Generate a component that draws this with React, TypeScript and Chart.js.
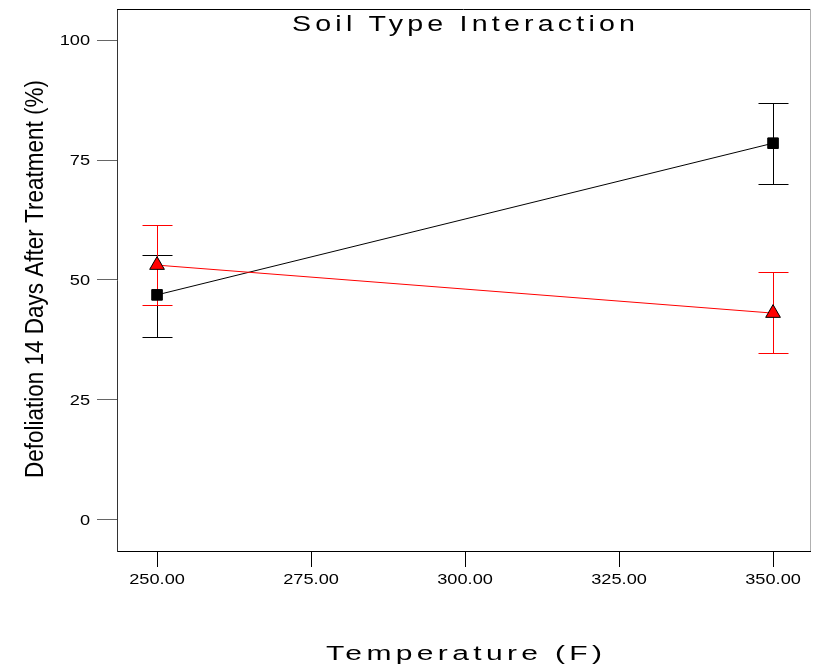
import React, { useEffect, useRef } from "react";
import { Chart, registerables } from "chart.js";
Chart.register(...registerables);

const temperatures = [250, 350];
const blackMean = [46.9, 78.5];
const blackUpper = [55.2, 86.9];
const blackLower = [38.2, 70.0];
const redMean = [53.1, 43.1];
const redUpper = [61.5, 51.7];
const redLower = [44.8, 34.8];
const xTicks = [250, 275, 300, 325, 350];
const yTicks = [0, 25, 50, 75, 100];
const chartTitle = "Soil Type Interaction";
const xTitle = "Temperature (F)";
const yTitle = "Defoliation 14 Days After Treatment (%)";

const FONT = '"Liberation Sans", Arial, sans-serif';

function stretchText(
  ctx: CanvasRenderingContext2D,
  text: string,
  x: number,
  y: number,
  size: number,
  sx: number,
  align: "left" | "center" | "right",
  targetWidth?: number
) {
  ctx.save();
  ctx.font = `${size}px ${FONT}`;
  (ctx as any).letterSpacing = "0px";
  const w = ctx.measureText(text).width;
  let spacing = 0;
  if (targetWidth !== undefined && text.length > 1) {
    spacing = (targetWidth / sx - w) / (text.length - 1);
  }
  const total = (w + spacing * (text.length - 1)) * sx;
  let left = x;
  if (align === "center") left = x - total / 2;
  if (align === "right") left = x - total;
  (ctx as any).letterSpacing = `${spacing}px`;
  ctx.translate(left, y);
  ctx.scale(sx, 1);
  ctx.fillStyle = "#000";
  ctx.textAlign = "left";
  ctx.textBaseline = "alphabetic";
  ctx.fillText(text, 0, 0);
  ctx.restore();
}

const decorPlugin = {
  id: "decor",
  beforeDatasetsDraw(chart: any) {
    const ctx = chart.ctx as CanvasRenderingContext2D;
    const xs = chart.scales.x;
    const ys = chart.scales.y;
    const series = [
      { lo: blackLower, hi: blackUpper, color: "#000000" },
      { lo: redLower, hi: redUpper, color: "#ff0000" },
    ];
    ctx.save();
    ctx.lineWidth = 1;
    for (const s of series) {
      ctx.strokeStyle = s.color;
      temperatures.forEach((t, i) => {
        const x = Math.round(xs.getPixelForValue(t)) + 0.5;
        const y1 = Math.round(ys.getPixelForValue(s.hi[i])) + 0.5;
        const y2 = Math.round(ys.getPixelForValue(s.lo[i])) + 0.5;
        ctx.beginPath();
        ctx.moveTo(x, y1);
        ctx.lineTo(x, y2);
        ctx.moveTo(x - 15, y1);
        ctx.lineTo(x + 15, y1);
        ctx.moveTo(x - 15, y2);
        ctx.lineTo(x + 15, y2);
        ctx.stroke();
      });
    }
    ctx.restore();
  },
  afterDraw(chart: any) {
    const ctx = chart.ctx as CanvasRenderingContext2D;
    const a = chart.chartArea;
    const xs = chart.scales.x;
    const ys = chart.scales.y;
    ctx.save();
    ctx.lineWidth = 1;
    ctx.strokeStyle = "#000";
    ctx.beginPath();
    ctx.moveTo(a.left, Math.round(a.top) + 0.5);
    ctx.lineTo(a.right, Math.round(a.top) + 0.5);
    ctx.stroke();
    ctx.strokeStyle = "#b0b0b0";
    ctx.beginPath();
    ctx.moveTo(Math.round(a.right) + 0.5, a.top);
    ctx.lineTo(Math.round(a.right) + 0.5, a.bottom);
    ctx.stroke();
    ctx.restore();

    xTicks.forEach((v) => {
      stretchText(ctx, v.toFixed(2), xs.getPixelForValue(v), 584, 14, 1.3, "center");
    });
    yTicks.forEach((v) => {
      stretchText(ctx, String(v), 90, ys.getPixelForValue(v) + 5, 14, 1.3, "right");
    });

    stretchText(ctx, chartTitle, 292, 31, 22, 1.3, "left", 343);
    stretchText(ctx, xTitle, 326, 660, 20, 1.5, "left", 276);

    ctx.save();
    ctx.font = `25px ${FONT}`;
    (ctx as any).letterSpacing = "0px";
    const w = ctx.measureText(yTitle).width;
    ctx.translate(43, 478);
    ctx.rotate(-Math.PI / 2);
    ctx.scale(398 / w, 1);
    ctx.fillStyle = "#000";
    ctx.textAlign = "left";
    ctx.textBaseline = "alphabetic";
    ctx.fillText(yTitle, 0, 0);
    ctx.restore();
  },
};

export default function App() {
  const ref = useRef<HTMLCanvasElement>(null);
  useEffect(() => {
    if (!ref.current) return;
    const chart = new Chart(ref.current, {
      type: "line",
      data: {
        datasets: [
          {
            label: "Red",
            data: temperatures.map((t, i) => ({ x: t, y: redMean[i] })),
            borderColor: "#ff0000",
            borderWidth: 1,
            backgroundColor: "#ff0000",
            pointStyle: "triangle",
            pointRadius: 8.5,
            pointBorderColor: "#000",
            pointBorderWidth: 1,
            pointBackgroundColor: "#ff0000",
          },
          {
            label: "Black",
            data: temperatures.map((t, i) => ({ x: t, y: blackMean[i] })),
            borderColor: "#000000",
            borderWidth: 1,
            backgroundColor: "#000",
            pointStyle: "rect",
            pointRadius: 7.5,
            pointBorderColor: "#000",
            pointBorderWidth: 1,
            pointBackgroundColor: "#000",
          },
        ],
      },
      options: {
        responsive: false,
        animation: false,
        devicePixelRatio: 1,
        layout: { autoPadding: false, padding: { top: 9, right: 3, left: 0, bottom: 0 } },
        plugins: { legend: { display: false }, title: { display: false }, tooltip: { enabled: false } },
        scales: {
          x: {
            type: "linear",
            min: 243.5,
            max: 356,
            afterBuildTicks: (s: any) => {
              s.ticks = xTicks.map((v) => ({ value: v }));
            },
            afterFit: (s: any) => {
              s.height = 116;
              s.paddingLeft = 0;
              s.paddingRight = 0;
            },
            grid: { drawOnChartArea: false, drawTicks: true, tickLength: 16, tickColor: "#000", tickWidth: 1 },
            border: { display: true, color: "#000", width: 1 },
            ticks: { display: false, autoSkip: false },
          },
          y: {
            type: "linear",
            min: -6.46,
            max: 106.46,
            afterBuildTicks: (s: any) => {
              s.ticks = yTicks.map((v) => ({ value: v }));
            },
            afterFit: (s: any) => {
              s.width = 117;
              s.paddingTop = 0;
              s.paddingBottom = 0;
            },
            grid: { drawOnChartArea: false, drawTicks: true, tickLength: 20, tickColor: "#666", tickWidth: 1 },
            border: { display: true, color: "#333", width: 1 },
            ticks: { display: false, autoSkip: false },
          },
        },
      },
      plugins: [decorPlugin],
    });
    return () => chart.destroy();
  }, []);
  return (
    <div style={{ position: "absolute", left: 0, top: 0, width: 813, height: 667 }}>
      <canvas ref={ref} width={813} height={667} style={{ display: "block" }} />
    </div>
  );
}
